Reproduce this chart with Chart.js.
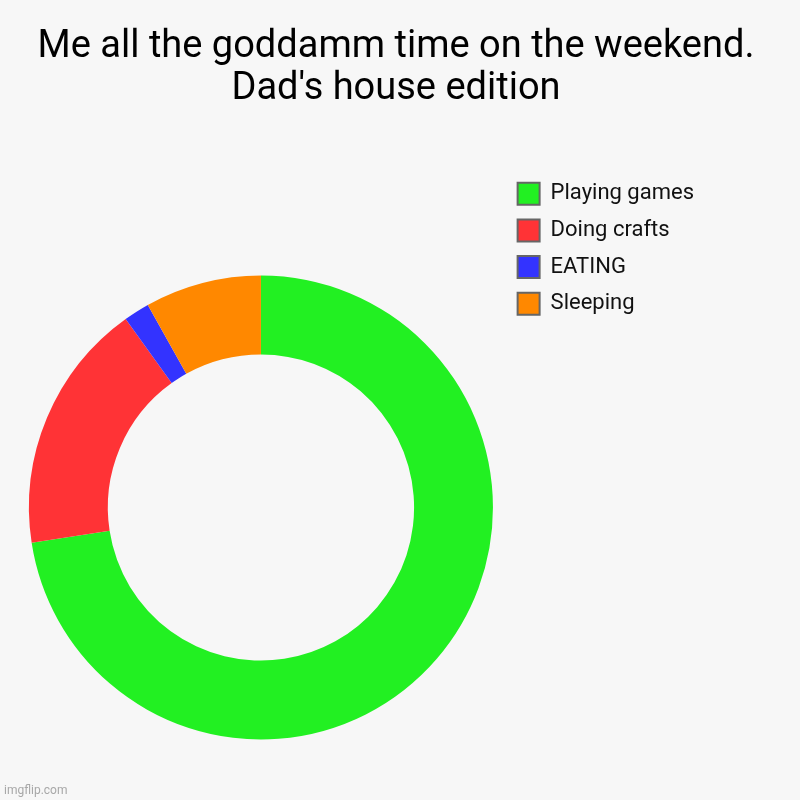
<!DOCTYPE html>
<html>
<head>
<meta charset="utf-8">
<title>Dad's house edition</title>
<script src="https://cdn.jsdelivr.net/npm/chart.js@4.4.1/dist/chart.umd.min.js"></script>
<style>
    html, body {
        margin: 0;
        padding: 0;
        background: #f7f7f7;
    }
    #wrap {
        position: relative;
        width: 800px;
        height: 800px;
    }
    #watermark {
        position: absolute;
        left: 4px;
        bottom: 3px;
        font: 12px Roboto, sans-serif;
        color: #a8a8a8;
    }
</style>
</head>
<body>
<div id="wrap">
    <canvas id="chart"></canvas>
    <div id="watermark">imgflip.com</div>
</div>
<script>
const titleLines = ["Me all the goddamm time on the weekend.", "Dad's house edition"];
const activities = ["Playing games", "Doing crafts", "EATING", "Sleeping"];
const shares = [72.5, 17.5, 1.8, 8.1];
const sliceColors = ["#22f022", "#ff3336", "#3333ff", "#ff8800"];

// title should be centred over the canvas, not just the padded area
const centerTitle = {
    id: "centerTitle",
    afterLayout(chart) {
        chart.titleBlock.left = 0;
        chart.titleBlock.right = chart.width - 8;
    },
};

document.addEventListener("DOMContentLoaded", () => {
    const ctx = document.getElementById("chart").getContext("2d");
    const baseLabels = Chart.overrides.doughnut.plugins.legend.labels.generateLabels;

    new Chart(ctx, {
        type: "doughnut",
        data: {
            labels: activities,
            datasets: [{
                data: shares,
                backgroundColor: sliceColors,
                borderWidth: 0,
            }],
        },
        options: {
            responsive: true,
            maintainAspectRatio: false,
            animation: false,
            cutout: "66%",
            radius: 232,
            layout: {
                padding: { top: 0, left: 19, right: 96, bottom: 0 },
            },
            plugins: {
                tooltip: { enabled: false },
                title: {
                    display: true,
                    text: titleLines,
                    color: "#000",
                    font: { family: "Roboto", size: 38, weight: "normal", lineHeight: 1.1 },
                    padding: { top: 27, bottom: 104.4 },
                },
                legend: {
                    display: true,
                    position: "right",
                    align: "start",
                    // empty legend title only used as a spacer above the items
                    title: {
                        display: true,
                        text: "",
                        font: { size: 10, lineHeight: 1 },
                        padding: { top: 158, bottom: 0 },
                    },
                    labels: {
                        color: "#111",
                        font: { family: "Roboto", size: 22 },
                        boxWidth: 22,
                        boxHeight: 22,
                        padding: 14.7,
                        generateLabels: (chart) =>
                            baseLabels(chart).map((item) => ({
                                ...item,
                                strokeStyle: "#666",
                                lineWidth: 2,
                            })),
                    },
                },
            },
        },
        plugins: [centerTitle],
    });
});
</script>
</body>
</html>
